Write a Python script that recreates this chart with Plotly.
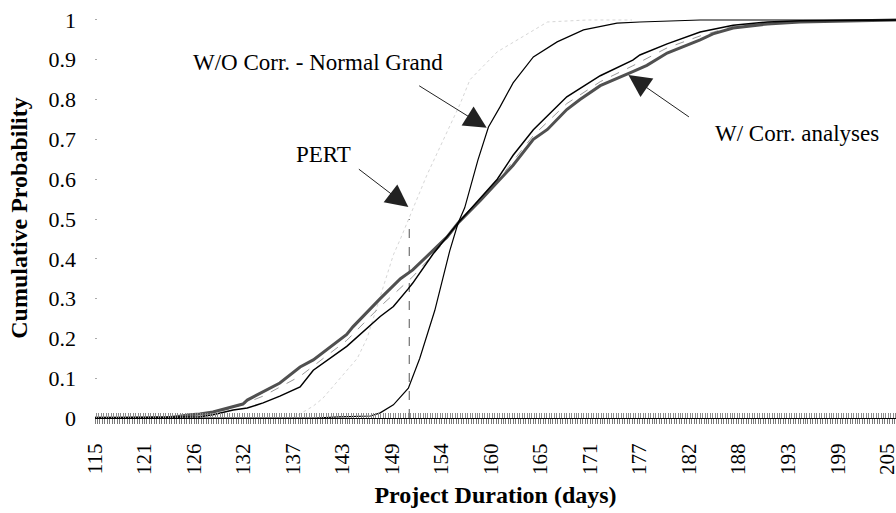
import numpy as np
import plotly.graph_objects as go

# ---------------- data ----------------
tick_labels = ["115", "121", "126", "132", "137", "143", "149", "154", "160",
               "165", "171", "177", "182", "188", "193", "199", "205"]

# W/O correlation - Normal Grand (steep S-curve)
normal_grand_x = [115, 140, 142.8, 146.3, 147.4, 148.9, 150.6, 151.9, 153.6, 155.3,
                  156.25, 157.0, 158.5, 159.7, 161.0, 162.5, 164.8, 167.5, 170.5,
                  174.3, 176.9, 183.75, 206]
normal_grand_y = [0, 0, 0.003, 0.005, 0.013, 0.033, 0.075, 0.15, 0.27, 0.42,
                  0.49, 0.528, 0.648, 0.731, 0.781, 0.842, 0.907, 0.945, 0.975,
                  0.992, 0.995, 1.0, 1.0]

# W/ correlation analyses - thick curve
corr_thick_x = [115, 123.2, 125.8, 126.9, 128.4, 131.8, 132.3, 136.0, 138.3, 139.8,
                143.6, 144.3, 147.4, 149.7, 151.1, 153.4, 155.0, 156.25, 158.75,
                162.5, 164.8, 166.4, 168.6, 170.1, 172.4, 176.1, 177.7, 180.0,
                183.75, 185.2, 187.5, 191.4, 195.1, 206]
corr_thick_y = [0, 0, 0.008, 0.01, 0.015, 0.035, 0.045, 0.088, 0.128, 0.146,
                0.21, 0.229, 0.3, 0.35, 0.372, 0.422, 0.455, 0.49, 0.546,
                0.635, 0.70, 0.725, 0.775, 0.80, 0.835, 0.87, 0.886, 0.917,
                0.95, 0.965, 0.98, 0.99, 0.995, 1.0]

# W/ correlation analyses - thin curve
corr_thin_x = [115, 126.9, 128.4, 130.7, 132.3, 134.1, 136.0, 138.3, 139.8, 143.6,
               147.4, 148.9, 150.6, 151.1, 153.4, 155.0, 156.25, 160.7, 162.5,
               164.8, 168.6, 172.4, 176.1, 176.9, 180.0, 183.75, 187.5, 191.4,
               195.1, 206]
corr_thin_y = [0, 0.003, 0.008, 0.02, 0.025, 0.038, 0.055, 0.078, 0.12, 0.18,
               0.255, 0.28, 0.325, 0.339, 0.412, 0.455, 0.49, 0.6, 0.66,
               0.724, 0.807, 0.86, 0.899, 0.912, 0.94, 0.97, 0.987, 0.995,
               0.998, 1.0]

# W/ correlation analyses - intermediate (dashed grey) curve
corr_mid_x = [115, 126.9, 130.7, 134.1, 138.3, 143.6, 147.4, 151.1, 155.0, 156.25,
              160.7, 164.8, 168.6, 172.4, 176.1, 180.0, 183.75, 187.5, 191.4, 206]
corr_mid_y = [0, 0.005, 0.025, 0.055, 0.105, 0.195, 0.28, 0.355, 0.45, 0.49,
              0.595, 0.71, 0.79, 0.845, 0.885, 0.93, 0.96, 0.984, 0.993, 1.0]

# faint dotted curve (PERT normal)
pert_curve_x = [137.5, 139.8, 140.9, 144.0, 144.8, 145.9, 148.9, 149.7, 152.7,
                156.5, 157.6, 160.7, 164.4, 166.4, 170.9, 176.0]
pert_curve_y = [0.0, 0.03, 0.05, 0.13, 0.15, 0.2, 0.41, 0.45, 0.61,
                0.79, 0.85, 0.92, 0.97, 0.995, 1.0, 1.0]

# PERT estimate (vertical dashed line)
pert_duration = 150.7
pert_probability = 0.5

FONT = "Liberation Serif"

fig = go.Figure()

fig.add_trace(go.Scatter(x=pert_curve_x, y=pert_curve_y, mode="lines",
                         line=dict(color="#d6d6d6", width=1, dash="dot"),
                         showlegend=False, hoverinfo="skip"))
fig.add_trace(go.Scatter(x=[pert_duration, pert_duration], y=[0, pert_probability],
                         mode="lines", line=dict(color="#555555", width=1, dash="dash"),
                         showlegend=False, hoverinfo="skip"))
fig.add_trace(go.Scatter(x=corr_mid_x, y=corr_mid_y, mode="lines",
                         line=dict(color="#9a9a9a", width=1, dash="dash"),
                         showlegend=False))
fig.add_trace(go.Scatter(x=corr_thick_x, y=corr_thick_y, mode="lines",
                         line=dict(color="#505050", width=3),
                         showlegend=False))
fig.add_trace(go.Scatter(x=corr_thin_x, y=corr_thin_y, mode="lines",
                         line=dict(color="#000000", width=1.5),
                         showlegend=False))
fig.add_trace(go.Scatter(x=normal_grand_x, y=normal_grand_y, mode="lines",
                         line=dict(color="#000000", width=1.2),
                         showlegend=False))

# ---------------- axes ----------------
lab_start = float(tick_labels[0])
lab_end = float(tick_labels[-1])
label_pos = np.linspace(lab_start, lab_end, len(tick_labels))
fine_step = (label_pos[1] - label_pos[0]) / 20.0
fine_vals = lab_start + fine_step * np.arange(0, 20 * (len(tick_labels) - 1) + 4)
fine_text = [tick_labels[i // 20] if i % 20 == 0 and i // 20 < len(tick_labels) else ""
             for i in range(len(fine_vals))]

fig.update_xaxes(
    range=[115, 206.0], automargin=False,
    tickmode="array", tickvals=fine_vals, ticktext=fine_text,
    ticks="outside", ticklen=5, tickwidth=1, tickcolor="#7a7a7a",
    minor=dict(tickmode="linear", tick0=lab_start + fine_step / 2, dtick=fine_step,
               ticks="inside", ticklen=5, tickwidth=1, tickcolor="#8a8a8a"),
    tickangle=-90, ticklabelstandoff=11, ticklabeloverflow="allow",
    tickfont=dict(family=FONT, size=21, color="black"),
    showline=True, linecolor="black", linewidth=1,
    showgrid=False, zeroline=False,
    title=dict(text="<b>Project Duration (days)</b>",
               font=dict(family=FONT, size=24, color="black"), standoff=12),
)
fig.update_yaxes(
    range=[0, 1.005], tickmode="linear", tick0=0, dtick=0.1, automargin=False,
    ticks="inside", ticklen=2, tickcolor="#aaaaaa",
    ticklabelstandoff=18,
    tickfont=dict(family=FONT, size=22, color="black"),
    showline=False, showgrid=False, zeroline=False,
    title=dict(text="<b>Cumulative Probability</b>",
               font=dict(family=FONT, size=24, color="black"), standoff=14),
)

# ---------------- annotations ----------------
ann_font = dict(family=FONT, size=23, color="black")
fig.add_annotation(x=140.3, y=0.894, text="W/O Corr. - Normal Grand",
                   showarrow=False, font=ann_font)
fig.add_annotation(x=141.0, y=0.661, text="PERT", showarrow=False, font=ann_font)
fig.add_annotation(x=194.7, y=0.716, text="W/ Corr. analyses",
                   showarrow=False, font=ann_font)

arrow_style = dict(text="", showarrow=True, arrowhead=2, arrowsize=4.5,
                   arrowwidth=1, arrowcolor="#222222")
fig.add_annotation(x=159.5, y=0.729, ax=-69, ay=-43, **arrow_style)
fig.add_annotation(x=150.6, y=0.53, ax=-51, ay=-39, **arrow_style)
fig.add_annotation(x=175.6, y=0.862, ax=62, ay=43, **arrow_style)

fig.update_layout(
    width=896, height=513,
    margin=dict(l=95, r=0, t=18, b=95),
    paper_bgcolor="white", plot_bgcolor="white",
    font=dict(family=FONT, color="black"),
    showlegend=False,
)

fig.write_html("out.html",
               config={"displayModeBar": False},
               post_script="document.body.style.margin='0px';"
                           "document.body.style.overflow='hidden';")
